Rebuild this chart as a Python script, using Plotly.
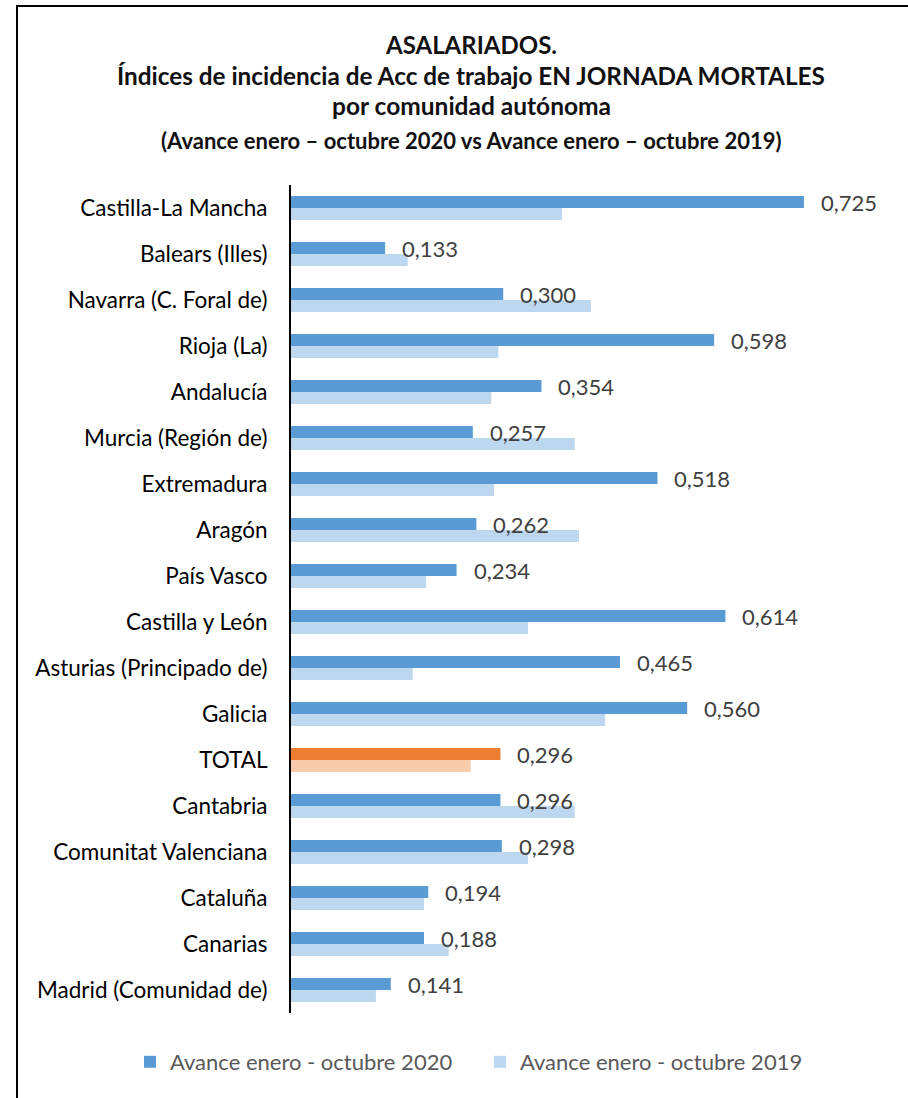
import plotly.graph_objects as go

# Data
comunidades = [
    "Castilla-La Mancha", "Balears (Illes)", "Navarra (C. Foral de)", "Rioja (La)",
    "Andalucía", "Murcia (Región de)", "Extremadura", "Aragón", "País Vasco",
    "Castilla y León", "Asturias (Principado de)", "Galicia", "TOTAL", "Cantabria",
    "Comunitat Valenciana", "Cataluña", "Canarias", "Madrid (Comunidad de)",
]
avance_2020 = [0.725, 0.133, 0.300, 0.598, 0.354, 0.257, 0.518, 0.262, 0.234,
               0.614, 0.465, 0.560, 0.296, 0.296, 0.298, 0.194, 0.188, 0.141]
avance_2019 = [0.383, 0.165, 0.424, 0.293, 0.283, 0.401, 0.287, 0.407, 0.191,
               0.335, 0.172, 0.444, 0.254, 0.401, 0.335, 0.188, 0.223, 0.120]

BLUE, LIGHT_BLUE = "#5B9BD5", "#BDD7EE"
ORANGE, LIGHT_ORANGE = "#ED7D31", "#F8CBAD"
FONT = "Lato"

W, H = 908, 1098
L, R, T, B = 291, 51, 185, 85
pw, ph = W - L - R, H - T - B


def px_x(x):
    # page pixel -> plot paper x
    return (x - L) / pw


def px_y(y):
    # page pixel (from top) -> plot paper y
    return (H - y - B) / ph


col_2020 = [ORANGE if c == "TOTAL" else BLUE for c in comunidades]
col_2019 = [LIGHT_ORANGE if c == "TOTAL" else LIGHT_BLUE for c in comunidades]

fig = go.Figure()
fig.add_trace(go.Bar(
    y=comunidades, x=avance_2020, orientation="h",
    name="Avance enero - octubre 2020",
    marker=dict(color=col_2020, line_width=0),
))
fig.add_trace(go.Bar(
    y=comunidades, x=avance_2019, orientation="h",
    name="Avance enero - octubre 2019",
    marker=dict(color=col_2019, line_width=0),
))

# value labels for the 2020 series
for c, v in zip(comunidades, avance_2020):
    fig.add_annotation(
        x=v, y=c, text=f"{v:.3f}".replace(".", ","),
        xanchor="left", yanchor="middle", xshift=15, yshift=6,
        showarrow=False, font=dict(family=FONT, size=22, color="#404040"),
    )

# title lines
titles = [
    ("ASALARIADOS.", 45, 24),
    ("Índices de incidencia de Acc de trabajo EN JORNADA MORTALES", 75, 24.3),
    ("por comunidad autónoma", 105, 24.5),
    ("(Avance enero – octubre 2020 vs Avance enero – octubre 2019)", 140, 22),
]
for txt, ypx, size in titles:
    fig.add_annotation(
        x=px_x(471), y=px_y(ypx), xref="paper", yref="paper",
        text=f"<b>{txt}</b>", showarrow=False,
        xanchor="center", yanchor="middle",
        font=dict(family=FONT, size=size, color="#111111"),
    )

# chart border (runs past the right and bottom edges like the reference)
fig.add_shape(
    type="rect", xref="paper", yref="paper",
    x0=px_x(17), x1=px_x(W + 40), y0=px_y(H + 40), y1=px_y(6),
    line=dict(color="black", width=2), fillcolor="rgba(0,0,0,0)",
)

fig.update_layout(
    width=W, height=H,
    margin=dict(l=L, r=R, t=T, b=B, autoexpand=False),
    paper_bgcolor="white", plot_bgcolor="white",
    barmode="group", bargap=0.48, bargroupgap=0,
    showlegend=True,
    legend=dict(
        orientation="h", x=px_x(130), xanchor="left",
        y=px_y(1062), yanchor="middle",
        font=dict(family=FONT, size=22, color="#595959"),
        traceorder="normal", itemwidth=30,
        entrywidth=305, entrywidthmode="pixels",
    ),
    font=dict(family=FONT),
)
fig.update_xaxes(range=[0, 0.8], showgrid=False, showticklabels=False,
                 zeroline=False, showline=False, automargin=False)
fig.update_yaxes(autorange="reversed", showgrid=False, showline=True,
                 linecolor="black", linewidth=2, ticks="", automargin=False,
                 ticklabelstandoff=17,
                 tickfont=dict(family=FONT, size=22.5, color="black"))

fig.write_html("out.html", config={"displayModeBar": False},
               post_script="document.body.style.margin='0';")
